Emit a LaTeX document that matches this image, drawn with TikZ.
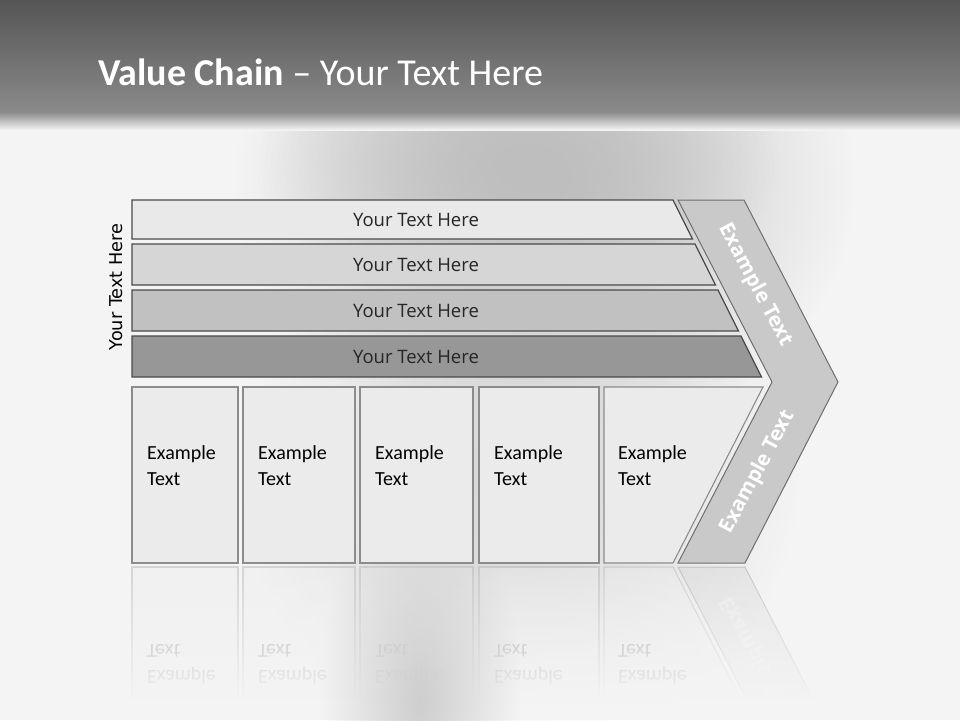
\documentclass[tikz,border=0pt]{standalone}
\usepackage{fontspec}
\setmainfont{Carlito}
\newfontfamily\barfont{Open Sans}
\newfontfamily\sidefont{DejaVu Sans}
\usepackage {tikz}
\usetikzlibrary {positioning}
\usetikzlibrary{calc}
\usetikzlibrary{fadings}
\definecolor{bgcol}{HTML}{F4F4F4}
\definecolor{hdtop}{HTML}{555555}
\definecolor{hdbot}{HTML}{8A8A8A}
\definecolor{blobcol}{HTML}{BEBEBE}
\definecolor{barline}{HTML}{4A4A4A}
\definecolor{barA}{HTML}{E9E9E9}
\definecolor{barB}{HTML}{D6D6D6}
\definecolor{barC}{HTML}{C1C1C1}
\definecolor{barD}{HTML}{979797}
\definecolor{cellfill}{HTML}{EBEBEB}
\definecolor{cellline}{HTML}{8C8C8C}
\definecolor{chevfill}{HTML}{C9C9C9}
\definecolor{chevline}{HTML}{6E6E6E}
\definecolor{textcol}{HTML}{262626}
\tikzfading[name=fadedown, top color=transparent!100, bottom color=transparent!0]
\tikzfading[name=softblob, inner color=transparent!0, outer color=transparent!100]
\newcommand{\bartxt}{Your Text Here}
\newcommand{\celltxt}{Example\\Text}
\tikzset{
  bar/.style={draw=barline, line width=1.3pt},
  cell/.style={draw=cellline, fill=cellfill, line width=1.1pt},
  chev/.style={draw=chevline, fill=chevfill, line width=1pt},
  bartext/.style={font=\barfont\fontsize{18.5}{20}\selectfont, text=textcol},
  celltext/.style={font=\fontsize{20}{26}\selectfont, align=left, anchor=west, inner sep=0pt, text=black},
  chevtext/.style={font=\barfont\bfseries\fontsize{20.5}{22}\selectfont, text=white},
}

\begin{document}
\begin{tikzpicture}[x=1pt, y=-1pt]
    \useasboundingbox (0,0) rectangle (960,720);
    % backdrop
    \fill[bgcol] (0,0) rectangle (960,720);
    \fill[blobcol, path fading=softblob] (545,185) ellipse (310 and 260);
    \fill[blobcol, path fading=softblob] (520,160) ellipse (260 and 160);
    \fill[blobcol!60!bgcol, path fading=softblob] (520,470) ellipse (280 and 280);
    \shade[top color=hdtop, bottom color=hdbot] (0,0) rectangle (960,112);
    \shade[top color=hdbot, bottom color=bgcol] (0,112) rectangle (960,130);

    % mirror image under the cells
    \begin{scope}
     \clip (0,565) rectangle (960,698);
     \begin{scope}[shift={(0,1130)}, yscale=-1, opacity=0.3]
      \foreach \xa/\xb [count=\i] in {132/238, 243/355, 360/473, 479/599} {
        \draw[cell] (\xa,387) rectangle (\xb,563);
        \node[celltext, transform shape] (rc\i) at ({\xa+15},466) {\celltxt};
      }
      \draw[cell] (604,387) -- (763,387) -- (673,563) -- (604,563) -- cycle;
      \node[celltext, transform shape] (rc5) at (618,466) {\celltxt};
      \draw[chev] (678,382) -- (838,382) -- (745,563) -- (678,563) -- (772,382);
      \node[chevtext, rotate=62, transform shape] (rchev) at (758,472) {Example Text};
     \end{scope}
    \end{scope}
    \fill[bgcol, path fading=fadedown] (0,560) rectangle (960,705);
    \fill[bgcol] (0,704) rectangle (960,720);
    \fill[blobcol!70!bgcol, path fading=softblob] (420,700) ellipse (100 and 230);

    % bars
    \foreach \y/\h/\c [count=\i] in {200/39/barA, 244/41/barB, 290/41/barC, 336/41/barD} {
      \draw[bar, fill=\c] (132,\y) -- ({673+0.5*(\y-200)},\y)
        -- ({673+0.5*(\y+\h-200)},{\y+\h}) -- (132,{\y+\h}) -- cycle;
      \node[bartext] (bar\i) at (416,{\y+\h/2}) {\bartxt};
    }
    \node[font=\sidefont\fontsize{17.7}{19}\selectfont, rotate=90] (side) at (116,287) {\bartxt};

    % cells
    \foreach \xa/\xb [count=\i] in {132/238, 243/355, 360/473, 479/599} {
      \draw[cell] (\xa,387) rectangle (\xb,563);
      \node[celltext] (cell\i) at ({\xa+15},466) {\celltxt};
    }
    \draw[cell] (604,387) -- (763,387) -- (673,563) -- (604,563) -- cycle;
    \node[celltext] (cell5) at (618,466) {\celltxt};

    % chevron
    \draw[chev] (678,200) -- (744,200) -- (838,382) -- (745,563) -- (678,563) -- (772,382) -- cycle;
    \node[chevtext, rotate=-62] (chevup) at (755,285) {Example Text};
    \node[chevtext, rotate=62] (chevdown) at (758,472) {Example Text};

    % title
    \node[anchor=base west, inner sep=0pt, text=white, font=\fontsize{38}{40}\selectfont] (title) at (98,85)
      {\textbf{Value Chain} – Your Text Here};
\end{tikzpicture}
\end{document}
